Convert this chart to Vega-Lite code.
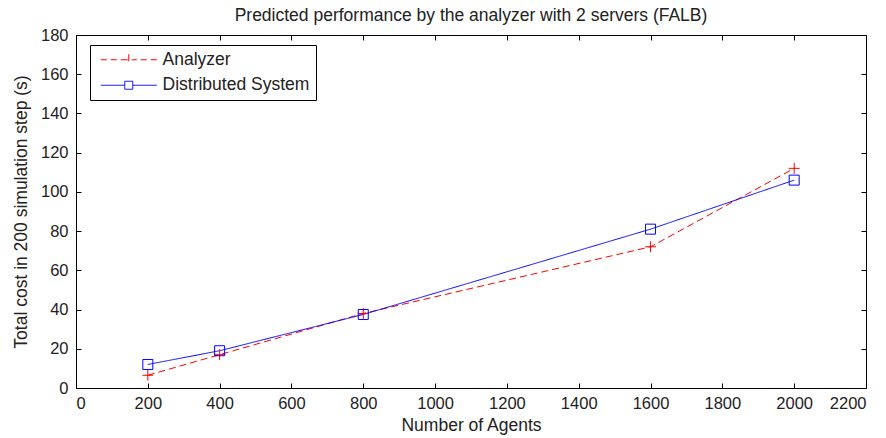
{
  "$schema": "https://vega.github.io/schema/vega-lite/v6.json",
  "width": 790,
  "height": 353,
  "autosize": {"type": "none"},
  "padding": {"left": 76, "top": 35, "right": 20, "bottom": 50},
  "background": "white",
  "title": {"text": "Predicted performance by the analyzer with 2 servers (FALB)", "font": "Liberation Sans", "fontSize": 17.5, "fontWeight": "normal", "color": "#222", "offset": 3},
  "config": {
    "view": {"stroke": "black", "strokeWidth": 1},
    "axis": {"labelFont": "Liberation Sans", "titleFont": "Liberation Sans", "labelFontSize": 16.5, "titleFontSize": 17.5, "titleFontWeight": "normal", "labelColor": "#222", "titleColor": "#222", "grid": false, "domain": false, "tickColor": "black", "tickSize": -5, "format": "d"}
  },
  "data": {"values": [
    {"agents": 200, "cost": 6.5, "series": "Analyzer"},
    {"agents": 400, "cost": 17, "series": "Analyzer"},
    {"agents": 800, "cost": 38, "series": "Analyzer"},
    {"agents": 1600, "cost": 72, "series": "Analyzer"},
    {"agents": 2000, "cost": 112, "series": "Analyzer"},
    {"agents": 200, "cost": 12, "series": "Distributed System"},
    {"agents": 400, "cost": 19, "series": "Distributed System"},
    {"agents": 800, "cost": 37.5, "series": "Distributed System"},
    {"agents": 1600, "cost": 81, "series": "Distributed System"},
    {"agents": 2000, "cost": 106, "series": "Distributed System"}
  ]},
  "resolve": {"axis": {"x": "independent", "y": "independent"}, "legend": {"color": "independent", "shape": "independent", "size": "independent", "strokeDash": "independent"}},
  "layer": [
    {
      "mark": {"type": "line", "strokeWidth": 1},
      "encoding": {
        "x": {"field": "agents", "type": "quantitative", "scale": {"domain": [0, 2200], "nice": false}, "axis": {"title": "Number of Agents", "values": [0,200,400,600,800,1000,1200,1400,1600,1800,2000,2200], "labelPadding": 12, "titlePadding": 5}},
        "y": {"field": "cost", "type": "quantitative", "scale": {"domain": [0, 180], "nice": false}, "axis": {"title": "Total cost in 200 simulation step (s)", "values": [0,20,40,60,80,100,120,140,160,180], "labelPadding": 13, "titlePadding": 10}},
        "color": {"field": "series", "type": "nominal", "scale": {"domain": ["Analyzer", "Distributed System"], "range": ["#ff0000", "#0000ff"]},
          "legend": {"orient": "none", "legendX": 14, "legendY": 10, "title": null, "strokeColor": "black", "fillColor": "white", "padding": 6, "cornerRadius": 0, "labelFont": "Liberation Sans", "labelFontSize": 17.5, "labelColor": "#222", "symbolSize": 100, "symbolOffset": 24, "labelOffset": 25, "rowPadding": 6.5,
            "encode": {"symbols": {"update": {
              "shape": {"signal": "datum.value === 'Analyzer' ? 'M-5.6,0H-4.4M-3.6,0H-2.4M-1.6,0H1.6M2.4,0H3.6M4.4,0H5.6M0,-1.1V1.1' : 'M-5.6,0H-0.8M0.8,0H5.6M-0.8,-0.8H0.8V0.8H-0.8Z'"},
              "stroke": {"signal": "datum.value === 'Analyzer' ? '#ff0000' : '#0000ff'"},
              "fill": {"value": "transparent"},
              "strokeWidth": {"value": 1},
              "strokeDash": {"value": []},
              "opacity": {"value": 1}
            }}}}},
        "strokeDash": {"field": "series", "type": "nominal", "scale": {"domain": ["Analyzer", "Distributed System"], "range": [[7, 4], [1, 0]]}, "legend": null}
      }
    },
    {
      "mark": {"type": "point", "filled": false, "strokeWidth": 1, "opacity": 1},
      "encoding": {
        "x": {"field": "agents", "type": "quantitative", "axis": {"orient": "top", "labels": false, "title": null, "values": [0,200,400,600,800,1000,1200,1400,1600,1800,2000,2200]}},
        "y": {"field": "cost", "type": "quantitative", "axis": {"orient": "right", "labels": false, "title": null, "values": [0,20,40,60,80,100,120,140,160,180]}},
        "color": {"field": "series", "type": "nominal", "legend": null},
        "shape": {"field": "series", "type": "nominal", "scale": {"domain": ["Analyzer", "Distributed System"], "range": ["M-1,0H1M0,-1V1", "square"]}, "legend": null},
        "size": {"field": "series", "type": "nominal", "scale": {"domain": ["Analyzer", "Distributed System"], "range": [120, 100]}, "legend": null}
      }
    }
  ]
}
